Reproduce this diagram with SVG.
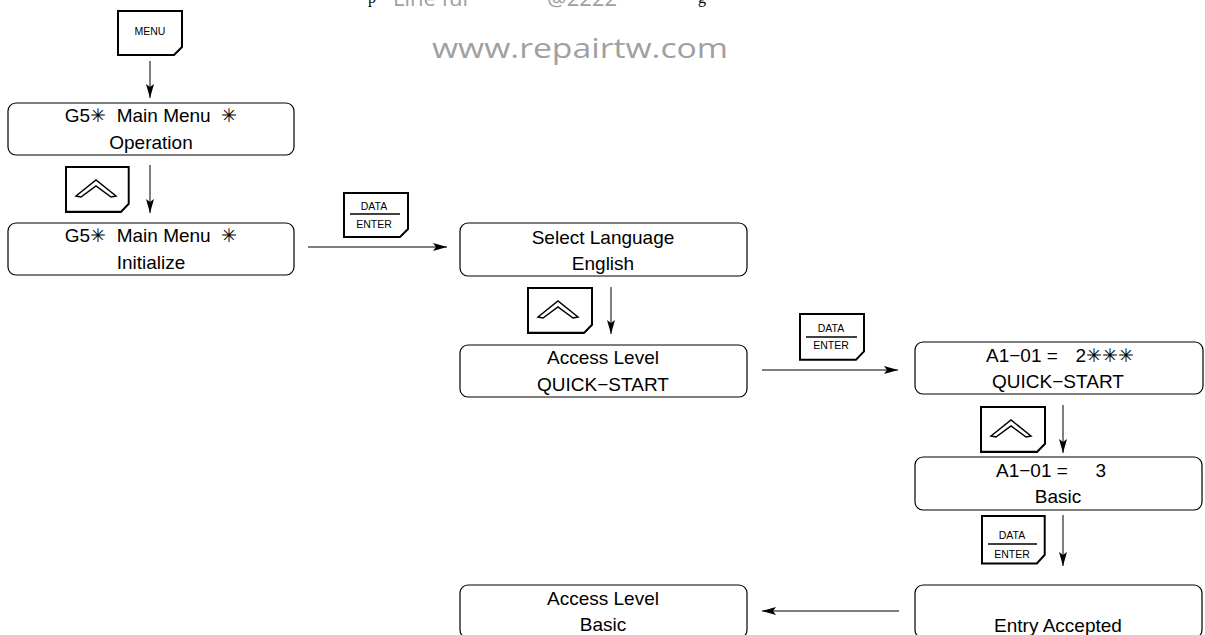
<svg xmlns="http://www.w3.org/2000/svg" width="1205" height="635" viewBox="0 0 1205 635">
<defs>
<style>
.box{fill:#fff;stroke:#000;stroke-width:1.2}
.key{fill:#fff;stroke:#000;stroke-width:2}
.t{font-family:"Liberation Sans",Arial,sans-serif;font-size:19px;fill:#000;text-anchor:middle;white-space:pre}
.l{text-anchor:start}
.r{text-anchor:end}
.s{font-family:"DejaVu Sans",sans-serif;font-weight:200;fill:#000}
.k{font-family:"Liberation Sans",Arial,sans-serif;font-size:10.5px;fill:#000;text-anchor:middle}
.c{stroke:#000;stroke-width:1;fill:none}
.chev{fill:#fff;stroke:#000;stroke-width:1.5;stroke-linejoin:miter}
.wm{font-family:"Open Sans",sans-serif;fill:#a0a0a0}
</style>
<marker id="ah" viewBox="0 0 14 8" refX="14" refY="4" markerWidth="14" markerHeight="8" markerUnits="userSpaceOnUse" orient="auto">
<path d="M0,0 L14,4 L0,8 L3,4 Z" fill="#000"/>
</marker>
<path id="keyshape" d="M0,0 H64 V36 L56,44 H0 Z"/>
<path id="chevshape" d="M-20,7 L0,-9 L20,7 L15,8 L0,-3 L-15,8 Z"/>
</defs>

<g id="watermark">
<text class="wm" x="393" y="6" font-size="22">Line ful</text>
<text class="wm" x="547" y="6" font-size="22">@2222</text>
<text x="368" y="3" font-family="Liberation Serif,serif" font-size="16">p</text>
<text x="698" y="3" font-family="Liberation Serif,serif" font-size="16">g</text>
<text class="wm" x="432" y="58" font-size="27" textLength="296" lengthAdjust="spacingAndGlyphs">www.repairtw.com</text>
</g>

<g id="connectors">
<line class="c" x1="150" y1="61" x2="150" y2="98" marker-end="url(#ah)"/>
<line class="c" x1="150" y1="165" x2="150" y2="213" marker-end="url(#ah)"/>
<line class="c" x1="308" y1="247" x2="447" y2="247" marker-end="url(#ah)"/>
<line class="c" x1="611" y1="287" x2="611" y2="334" marker-end="url(#ah)"/>
<line class="c" x1="762" y1="370" x2="898" y2="370" marker-end="url(#ah)"/>
<line class="c" x1="1063" y1="405" x2="1063" y2="453" marker-end="url(#ah)"/>
<line class="c" x1="1063" y1="515" x2="1063" y2="566" marker-end="url(#ah)"/>
<line class="c" x1="899" y1="611" x2="762" y2="611" marker-end="url(#ah)"/>
</g>

<g id="key-menu">
<use href="#keyshape" class="key" transform="translate(118,11)"/>
<text class="k" x="150" y="35">MENU</text>
</g>
<g id="key-up-1">
<use href="#keyshape" class="key" transform="translate(66,167) scale(0.98,1.02)"/>
<use href="#chevshape" class="chev" transform="translate(96,189)"/>
</g>
<g id="key-enter-1">
<use href="#keyshape" class="key" transform="translate(344,193)"/>
<text class="k" x="374" y="210">DATA</text>
<line x1="350" y1="214" x2="400" y2="214" stroke="#000" stroke-width="1.5"/>
<text class="k" x="374" y="228">ENTER</text>
</g>
<g id="key-up-2">
<use href="#keyshape" class="key" transform="translate(528,288) scale(1,1.02)"/>
<use href="#chevshape" class="chev" transform="translate(558,310)"/>
</g>
<g id="key-enter-2">
<use href="#keyshape" class="key" transform="translate(800,314) scale(1,1.04)"/>
<text class="k" x="831" y="332">DATA</text>
<line x1="806" y1="337" x2="857" y2="337" stroke="#000" stroke-width="1.5"/>
<text class="k" x="831" y="349">ENTER</text>
</g>
<g id="key-up-3">
<use href="#keyshape" class="key" transform="translate(981,407) scale(1,1.02)"/>
<use href="#chevshape" class="chev" transform="translate(1011,429)"/>
</g>
<g id="key-enter-3">
<use href="#keyshape" class="key" transform="translate(982,516) scale(0.98,1.08)"/>
<text class="k" x="1012" y="539">DATA</text>
<line x1="988" y1="544" x2="1037" y2="544" stroke="#000" stroke-width="1.5"/>
<text class="k" x="1012" y="558">ENTER</text>
</g>

<g id="box-main-operation">
<rect class="box" x="8" y="103" width="286" height="52" rx="8"/>
<text class="t" x="151" y="122">G5<tspan class="s">✳&#xFE0E;</tspan>  Main Menu  <tspan class="s">✳&#xFE0E;</tspan></text>
<text class="t" x="151" y="149">Operation</text>
</g>
<g id="box-main-initialize">
<rect class="box" x="8" y="223" width="286" height="52" rx="8"/>
<text class="t" x="151" y="242">G5<tspan class="s">✳&#xFE0E;</tspan>  Main Menu  <tspan class="s">✳&#xFE0E;</tspan></text>
<text class="t" x="151" y="269">Initialize</text>
</g>
<g id="box-select-language">
<rect class="box" x="460" y="223" width="287" height="53" rx="8"/>
<text class="t" x="603" y="244">Select Language</text>
<text class="t" x="603" y="270">English</text>
</g>
<g id="box-access-quick">
<rect class="box" x="460" y="345" width="287" height="52" rx="8"/>
<text class="t" x="603" y="364">Access Level</text>
<text class="t" x="603" y="391">QUICK−START</text>
</g>
<g id="box-a1-2">
<rect class="box" x="915" y="342" width="288" height="52" rx="8"/>
<text class="t l" x="986" y="362">A1−01 =</text>
<text class="t r" x="1134" y="362">2<tspan class="s">✳&#xFE0E;✳&#xFE0E;✳&#xFE0E;</tspan></text>
<text class="t" x="1058" y="388">QUICK−START</text>
</g>
<g id="box-a1-3">
<rect class="box" x="915" y="457" width="287" height="53" rx="8"/>
<text class="t l" x="996" y="477">A1−01 =</text>
<text class="t r" x="1106" y="477">3</text>
<text class="t" x="1058" y="503">Basic</text>
</g>
<g id="box-entry-accepted">
<rect class="box" x="915" y="585" width="287" height="53" rx="8"/>
<text class="t" x="1058" y="632">Entry Accepted</text>
</g>
<g id="box-access-basic">
<rect class="box" x="460" y="585" width="287" height="53" rx="8"/>
<text class="t" x="603" y="605">Access Level</text>
<text class="t" x="603" y="631">Basic</text>
</g>
</svg>
